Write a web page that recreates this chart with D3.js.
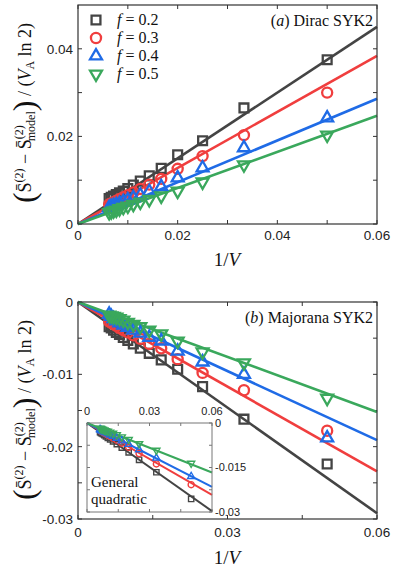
<!DOCTYPE html>
<html lang="en">
<head>
<meta charset="utf-8">
<title>SYK2 entropy</title>
<script src="https://cdn.jsdelivr.net/npm/d3@7/dist/d3.min.js"></script>
<style>
	body { margin: 0; background: white; }
	.tick-lab { font-family: "Liberation Sans", Arial, sans-serif; fill: #222; }
	.math { font-family: "Liberation Serif", "DejaVu Serif", serif; fill: #111; }
</style>
</head>
<body>
<svg id="chart" width="395" height="571"></svg>
<script>
// 1/V values shared by all series
var invV = [0.05, 0.0333, 0.025, 0.02, 0.0167, 0.0143, 0.0125, 0.0111, 0.01, 0.00909, 0.00833, 0.00769, 0.00714, 0.00667, 0.00625]
var fLabels = ["0.2", "0.3", "0.4", "0.5"]
var colors = ["#444444", "#f03e3e", "#1f6be6", "#3aa85c"]

// (a) Dirac SYK2
var diracF02 = [0.0375, 0.0265, 0.0190, 0.0158, 0.0127, 0.0110, 0.0098, 0.0089, 0.0081, 0.0075, 0.0071, 0.0067, 0.0064, 0.0061, 0.0058]
var diracF03 = [0.0300, 0.0203, 0.0155, 0.0126, 0.0103, 0.0090, 0.0080, 0.0072, 0.0066, 0.0061, 0.0057, 0.0053, 0.0050, 0.0047, 0.0045]
var diracF04 = [0.0242, 0.0174, 0.0128, 0.0105, 0.0085, 0.0074, 0.0066, 0.0060, 0.0055, 0.0051, 0.0047, 0.0044, 0.0042, 0.0040, 0.0038]
var diracF05 = [0.0203, 0.0135, 0.0096, 0.0075, 0.0064, 0.0056, 0.0050, 0.0045, 0.0041, 0.0038, 0.0035, 0.0032, 0.0030, 0.0028, 0.0026]
var diracFitEnd = [0.0450, 0.0384, 0.0286, 0.0247]   //fit line value at 1/V = 0.06

// (b) Majorana SYK2
var majF02 = [-0.0224, -0.0162, -0.0117, -0.0093, -0.0080, -0.0071, -0.0064, -0.0058, -0.0053, -0.0049, -0.0045, -0.0042, -0.0039, -0.0036, -0.0034]
var majF03 = [-0.0178, -0.0122, -0.0098, -0.0079, -0.0064, -0.0058, -0.0051, -0.0046, -0.0042, -0.0039, -0.0036, -0.0033, -0.0031, -0.0029, -0.0027]
var majF04 = [-0.0188, -0.0100, -0.0083, -0.0068, -0.0054, -0.0049, -0.0043, -0.0039, -0.0035, -0.0032, -0.0029, -0.0026, -0.0023, -0.0020, -0.0017]
var majF05 = [-0.0133, -0.0084, -0.0069, -0.0054, -0.0044, -0.0039, -0.0034, -0.0031, -0.0028, -0.0025, -0.0023, -0.0021, -0.0020, -0.0019, -0.0018]
var majFitEnd = [-0.0292, -0.0234, -0.0191, -0.0152]

// inset: general quadratic
var quadF02 = [-0.0256, -0.0166, -0.0124, -0.0099, -0.0083, -0.0071, -0.0062, -0.0055, -0.0050, -0.0045, -0.0041, -0.0038, -0.0035, -0.0033, -0.0031]
var quadF03 = [-0.0208, -0.0138, -0.0103, -0.0082, -0.0068, -0.0058, -0.0051, -0.0045, -0.0041, -0.0037, -0.0034, -0.0031, -0.0029, -0.0027, -0.0025]
var quadF04 = [-0.0180, -0.0118, -0.0090, -0.0072, -0.0060, -0.0051, -0.0045, -0.0040, -0.0036, -0.0033, -0.0030, -0.0028, -0.0026, -0.0024, -0.0022]
var quadF05 = [-0.0136, -0.0092, -0.0070, -0.0056, -0.0047, -0.0040, -0.0035, -0.0031, -0.0028, -0.0026, -0.0024, -0.0022, -0.0020, -0.0019, -0.0018]
var quadFitEnd = [-0.0297, -0.0242, -0.0215, -0.0167]

var svg = d3.select("#chart")
var axisColor = "#333"

//marker shapes: square, circle, triangle up, triangle down
function marker(sel, k, scale) {
	var types = [d3.symbolSquare, d3.symbolCircle, d3.symbolTriangle, d3.symbolTriangle]
	var sizes = [78, 80, 62, 62]
	sel.attr("d", d3.symbol().type(types[k]).size(sizes[k] * scale * scale)())
		.attr("fill", "none")
		.attr("stroke", colors[k])
		.attr("stroke-width", 2.3 * scale)
}

function drawPanel(box, xDom, yDom, xMajor, xMinor, yMajor, yMinor, fmtY, series, fitEnd, opts) {
	var x = d3.scaleLinear().domain(xDom).range([box.l, box.r])
	var y = d3.scaleLinear().domain(yDom).range([box.b, box.t])
	var g = svg.append("g")
	if (opts.bg) g.append("rect").attr("x", box.l).attr("y", box.t).attr("width", box.r - box.l).attr("height", box.b - box.t).attr("fill", "white")
	var tl = opts.tick
	//minor + major ticks on all four sides, pointing inward
	xMinor.forEach(function(v) {
		g.append("line").attr("x1", x(v)).attr("x2", x(v)).attr("y1", box.b).attr("y2", box.b - tl).attr("stroke", opts.frame)
		g.append("line").attr("x1", x(v)).attr("x2", x(v)).attr("y1", box.t).attr("y2", box.t + tl).attr("stroke", opts.frame)
	})
	yMinor.forEach(function(v) {
		g.append("line").attr("y1", y(v)).attr("y2", y(v)).attr("x1", box.l).attr("x2", box.l + tl).attr("stroke", opts.frame)
		g.append("line").attr("y1", y(v)).attr("y2", y(v)).attr("x1", box.r).attr("x2", box.r - tl).attr("stroke", opts.frame)
	})
	var lines = g.append("g")
	series.forEach(function(vals, k) {
		lines.append("line")
			.attr("x1", x(0)).attr("y1", y(0))
			.attr("x2", x(xDom[1])).attr("y2", y(fitEnd[k]))
			.attr("stroke", colors[k]).attr("stroke-width", opts.lw)
	})
	series.forEach(function(vals, k) {
		g.append("g").selectAll("path").data(vals).enter().append("path")
			.attr("transform", function(d, i) {
				return "translate(" + x(invV[i]) + "," + y(d) + ")" + (k == 3 ? " rotate(180)" : "")
			})
			.call(marker, k, opts.ms)
	})
	g.append("rect").attr("x", box.l).attr("y", box.t).attr("width", box.r - box.l).attr("height", box.b - box.t)
		.attr("fill", "none").attr("stroke", opts.frame).attr("stroke-width", opts.fw)
	//tick labels
	xMajor.forEach(function(v, i) {
		g.append("text").attr("class", "tick-lab").attr("x", x(v)).attr("y", opts.xLabY)
			.attr("text-anchor", "middle").attr("font-size", opts.fs).text(opts.fmtX(v))
	})
	yMajor.forEach(function(v) {
		g.append("text").attr("class", "tick-lab")
			.attr("x", opts.yRight ? box.r + 3 : box.l - 5).attr("y", y(v)).attr("dy", "0.36em")
			.attr("text-anchor", opts.yRight ? "start" : "end").attr("font-size", opts.fs).text(fmtY(v))
	})
	return {x: x, y: y}
}

function fmt(v) { return v == 0 ? "0" : String(+v.toFixed(3)) }

var topBox = {l: 78, r: 377, t: 5, b: 224}
drawPanel(topBox, [0, 0.06], [0, 0.05], [0, 0.02, 0.04, 0.06], d3.range(0, 0.061, 0.01), [0, 0.02, 0.04], d3.range(0, 0.05, 0.01), fmt,
	[diracF02, diracF03, diracF04, diracF05], diracFitEnd,
	{tick: 4, frame: axisColor, fw: 1.2, lw: 2.6, ms: 1, fs: 13.5, xLabY: 240, fmtX: fmt})

var botBox = {l: 78, r: 377, t: 302, b: 519}
drawPanel(botBox, [0, 0.06], [-0.03, 0], [0, 0.03, 0.06], d3.range(0, 0.061, 0.015), [0, -0.01, -0.02, -0.03], d3.range(0, -0.031, -0.005), fmt,
	[majF02, majF03, majF04, majF05], majFitEnd,
	{tick: 4, frame: axisColor, fw: 1.2, lw: 2.6, ms: 1, fs: 13.5, xLabY: 537, fmtX: fmt})

var insBox = {l: 87, r: 212, t: 423, b: 512}
drawPanel(insBox, [0, 0.06], [-0.03, 0], [0, 0.03, 0.06], d3.range(0, 0.061, 0.015), [0, -0.015, -0.03], d3.range(0, -0.031, -0.0075), fmt,
	[quadF02, quadF03, quadF04, quadF05], quadFitEnd,
	{tick: 3, frame: "#777", fw: 1, lw: 2, ms: 0.6, fs: 11, xLabY: 415, fmtX: fmt, yRight: true, bg: true})

svg.append("text").attr("class", "math").attr("x", 91).attr("y", 487).attr("font-size", 15).text("General")
svg.append("text").attr("class", "math").attr("x", 91).attr("y", 504).attr("font-size", 15).text("quadratic")

//legend
fLabels.forEach(function(f, k) {
	var ly = 20 + k * 18
	svg.append("path").attr("transform", "translate(96," + ly + ")" + (k == 3 ? " rotate(180)" : "")).call(marker, k, 1)
	var t = svg.append("text").attr("class", "math").attr("x", 117).attr("y", ly + 5).attr("font-size", 16)
	t.append("tspan").attr("font-style", "italic").text("f")
	t.append("tspan").text(" = " + f)
})

//panel titles
function title(yb, letter, name) {
	var t = svg.append("text").attr("class", "math").attr("x", 373).attr("y", yb).attr("text-anchor", "end").attr("font-size", 16)
	t.append("tspan").text("(")
	t.append("tspan").attr("font-style", "italic").text(letter)
	t.append("tspan").text(") " + name)
}
title(26, "a", "Dirac SYK2")
title(323, "b", "Majorana SYK2")

//x labels
function xlabel(yb) {
	var t = svg.append("text").attr("class", "math").attr("x", 227).attr("y", yb).attr("text-anchor", "middle").attr("font-size", 19)
	t.append("tspan").text("1/")
	t.append("tspan").attr("font-style", "italic").text("V")
}
xlabel(266)
xlabel(564)

//rotated y labels
function ylabel(cx, cy) {
	var t = svg.append("text").attr("class", "math").attr("text-anchor", "middle").attr("font-size", 18)
		.attr("transform", "translate(" + cx + "," + cy + ") rotate(-90)")
	t.append("tspan").attr("font-size", 32).attr("dy", 4).text("(")
	t.append("tspan").attr("dy", -4).text("S\u0304")
	t.append("tspan").attr("font-size", 12).attr("dy", -8).text("(2)")
	t.append("tspan").attr("dy", 8).text(" \u2212 S\u0304")
	t.append("tspan").attr("font-size", 12).attr("dy", -8).text("(2)")
	t.append("tspan").attr("font-size", 12).attr("dx", -16).attr("dy", 12).text("model")
	t.append("tspan").attr("font-size", 32).attr("dy", 0).text(")")
	t.append("tspan").attr("dy", -4).text(" / (")
	t.append("tspan").attr("font-style", "italic").text("V")
	t.append("tspan").attr("font-size", 12).attr("dy", 3).text("A")
	t.append("tspan").attr("dy", -3).text(" ln 2)")
}
ylabel(31, 113)
ylabel(31, 410)
</script>
</body>
</html>
